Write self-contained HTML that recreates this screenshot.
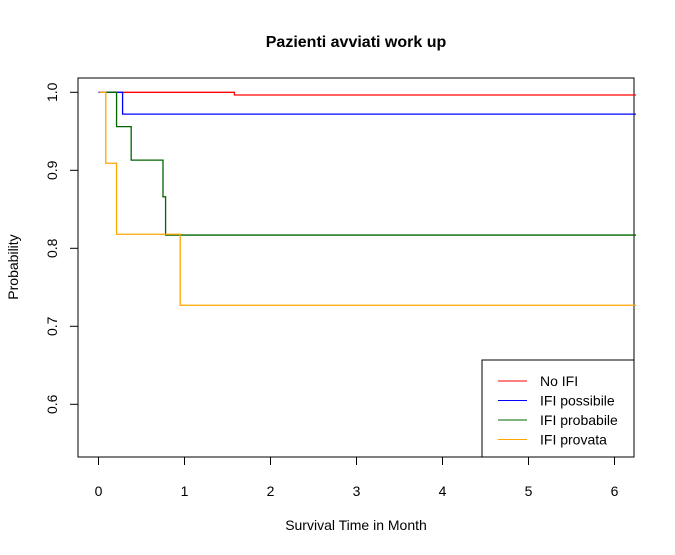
<!DOCTYPE html>
<html><head><meta charset="utf-8"><style>
body{margin:0;background:#fff;}
svg{display:block;font-family:"Liberation Sans",Arial,sans-serif;}
</style></head><body>
<svg id="chart" width="675" height="555">
<text x="356" y="47" text-anchor="middle" font-size="16" font-weight="bold">Pazienti avviati work up</text>
<rect x="78" y="78" width="556" height="379" fill="none" stroke="#000"/>
<g id="xaxis"></g>
<g id="yaxis"></g>
<g id="series"></g>
<text x="356" y="530" text-anchor="middle" font-size="14">Survival Time in Month</text>
<text transform="translate(18,267) rotate(-90)" text-anchor="middle" font-size="14">Probability</text>
<g>
<rect x="482" y="360" width="152" height="97" fill="#fff" stroke="#000"/>
<g id="legend"></g>
</g>
</svg>
<script>
const xTicks=[0,1,2,3,4,5,6];
const yTicks=[0.6,0.7,0.8,0.9,1.0];
const seriesNames=["No IFI","IFI possibile","IFI probabile","IFI provata"];
const seriesColors=["#ff0000","#0000ff","#006400","#ffa500"];
const noIfiTimes=[0,1.58];
const noIfiProb=[1.0,0.9965];
const possTimes=[0,0.28];
const possProb=[1.0,0.972];
const probTimes=[0.08,0.21,0.38,0.75,0.78];
const probProb=[1.0,0.956,0.913,0.866,0.817];
const provTimes=[0.01,0.085,0.21,0.95];
const provProb=[1.0,0.909,0.818,0.727];
const tEnd=6.25;
const X=t=>98.5+t*86.0;
const Y=p=>92.3+(1-p)*780;
const NS="http://www.w3.org/2000/svg";
function mk(tag,attrs,parent){const e=document.createElementNS(NS,tag);for(const k in attrs)e.setAttribute(k,attrs[k]);parent.appendChild(e);return e;}
const xa=document.getElementById('xaxis');
xTicks.forEach(t=>{
 const l=mk('line',{x1:X(t),x2:X(t),y1:457,y2:465,stroke:'#000'},xa);
 
 
 const tx=mk('text',{x:X(t),y:496,'text-anchor':'middle','font-size':14},xa);tx.textContent=t;
 
 
});
const ya=document.getElementById('yaxis');
yTicks.forEach(p=>{
 const l=mk('line',{x1:70,x2:78,y1:Y(p),y2:Y(p),stroke:'#000'},ya);
 
 
 const tx=mk('text',{x:0,y:0,'text-anchor':'middle','font-size':14,transform:`translate(57,${Y(p)}) rotate(-90)`},ya);tx.textContent=p.toFixed(1);
 
 
});
const all=[[noIfiTimes,noIfiProb],[possTimes,possProb],[probTimes,probProb],[provTimes,provProb]];
const sg=document.getElementById('series');
all.forEach(([ts,ps],i)=>{
 let d=`M${X(ts[0])},${Y(ps[0])}`;
 for(let k=1;k<ts.length;k++){d+=` H${X(ts[k])} V${Y(ps[k])}`;}
 d+=` H${X(tEnd)}`;
 const p=mk('path',{d:d,fill:'none',stroke:seriesColors[i],'stroke-width':1.3},sg);
 
 
});
const lg=document.getElementById('legend');
seriesNames.forEach((n,i)=>{
 const y=381+i*19.5;
 const l=mk('line',{x1:498,x2:527,y1:y,y2:y,stroke:seriesColors[i]},lg);
 
 
 const t=mk('text',{x:540,y:y+5,'font-size':14},lg);t.textContent=n;
 
 
});
</script>
</body></html>
